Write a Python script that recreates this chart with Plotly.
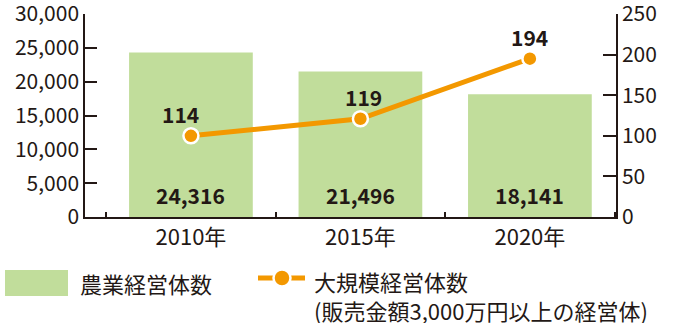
import plotly.graph_objects as go

years = ["2010年", "2015年", "2020年"]
farm_count = [24316, 21496, 18141]
farm_labels = ["24,316", "21,496", "18,141"]
large_pos = [100, 121, 195]          # plotted positions as drawn in the reference
large_labels = ["114", "119", "194"]
left_ticks = [0, 5000, 10000, 15000, 20000, 25000, 30000]
right_ticks = [0, 50, 100, 150, 200, 250]

GREEN = "#C1DD9B"
ORANGE = "#F39800"
INK = "#231815"
FONT = "Noto Sans CJK JP"

W, H = 675, 323
L, R, T, B = 85, 59, 14, 106
PW, PH = W - L - R, H - T - B

def px(x):
    return (x - L) / PW

def py(y):
    return (H - B - y) / PH

fig = go.Figure()
fig.add_trace(go.Bar(x=years, y=farm_count, marker=dict(color=GREEN, line=dict(width=0)),
                     width=0.73, yaxis="y", showlegend=False, hoverinfo="skip"))
fig.add_trace(go.Scatter(x=years, y=large_pos, mode="lines+markers", yaxis="y2",
                         line=dict(color=ORANGE, width=5),
                         marker=dict(color=ORANGE, size=15, line=dict(color="white", width=2.5)),
                         showlegend=False, hoverinfo="skip"))

ann = []
for yr, v, t in zip(years, farm_count, farm_labels):
    ann.append(dict(x=yr, y=0, xref="x", yref="y", text=t, showarrow=False,
                    yanchor="middle", yshift=22,
                    font=dict(family=FONT, size=21, color=INK, weight="bold")))
shifts = [-10, 3, 0]
for yr, v, t, s in zip(years, large_pos, large_labels, shifts):
    ann.append(dict(x=yr, y=v, xref="x", yref="y2", text=t, showarrow=False,
                    yanchor="middle", yshift=22, xshift=s,
                    font=dict(family=FONT, size=21, color=INK, weight="bold")))

# custom legend
shapes = [
    dict(type="rect", xref="paper", yref="paper", x0=px(5), x1=px(68), y0=py(270), y1=py(296),
         fillcolor=GREEN, line=dict(width=0)),
    dict(type="line", xref="paper", yref="paper", x0=px(258), x1=px(305), y0=py(278), y1=py(278),
         line=dict(color=ORANGE, width=5)),
    dict(type="circle", xref="paper", yref="paper", xsizemode="pixel", ysizemode="pixel",
         xanchor=px(282), yanchor=py(278), x0=-8.5, x1=8.5, y0=-8.5, y1=8.5,
         fillcolor=ORANGE, line=dict(color="white", width=2.5)),
]
ann.append(dict(x=px(78), y=py(283), xref="paper", yref="paper", text="農業経営体数",
                showarrow=False, xanchor="left", yanchor="middle",
                font=dict(family=FONT, size=22, color=INK)))
ann.append(dict(x=px(312), y=py(295), xref="paper", yref="paper",
                text="大規模経営体数<br>(販売金額3,000万円以上の経営体)",
                showarrow=False, xanchor="left", yanchor="middle", align="left",
                font=dict(family=FONT, size=22, color=INK)))

axis_common = dict(showgrid=False, zeroline=False, showline=True, linecolor=INK, linewidth=1.5,
                   ticks="inside", tickcolor=INK, tickwidth=1.5, ticklabeloverflow="allow",
                   automargin=False)

fig.update_layout(
    width=W, height=H, margin=dict(l=L, r=R, t=T, b=B),
    paper_bgcolor="white", plot_bgcolor="white",
    xaxis=dict(type="category", range=[-0.625, 2.508], tickson="boundaries", ticklen=5,
               tickfont=dict(family=FONT, size=22, color=INK), **axis_common),
    yaxis=dict(range=[0, 30000], tickvals=left_ticks, tickformat=",", ticklen=12,
               tickfont=dict(family=FONT, size=21, color=INK), **axis_common),
    yaxis2=dict(range=[0, 250], tickvals=right_ticks, overlaying="y", side="right", ticklen=13,
                tickfont=dict(family=FONT, size=21, color=INK), **axis_common),
    shapes=shapes, annotations=ann,
)
fig.write_html("out.html")
